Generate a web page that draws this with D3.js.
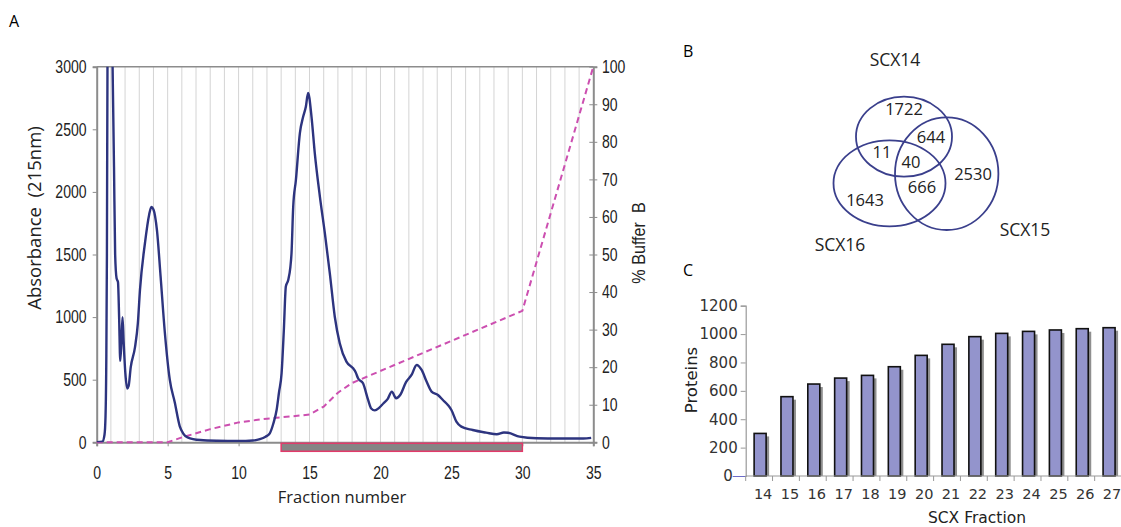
<!DOCTYPE html>
<html>
<head>
<meta charset="utf-8">
<script src="https://cdn.jsdelivr.net/npm/d3@7"></script>
<style>
body { margin: 0; background: #fff; }
svg { display: block; }
text { white-space: pre; }
</style>
</head>
<body>
<script>
var w = 1121;
var h = 527;

// panel A: chromatogram
var fraction = [0, 0.4, 0.55, 0.62, 0.68, 0.72, 0.76, 0.85, 1.05, 1.12, 1.22, 1.3, 1.4, 1.5, 1.58, 1.66, 1.74, 1.82, 1.9, 2.02, 2.15, 2.25, 2.4, 2.7, 2.9, 3.05, 3.4, 3.7, 3.85, 4.0, 4.25, 4.5, 4.8, 5.15, 5.5, 5.85, 6.1, 6.4, 7.3, 8.5, 10, 11, 11.5, 11.9, 12.2, 12.45, 12.68, 12.85, 13.03, 13.19, 13.33, 13.5, 13.65, 13.73, 13.85, 14.04, 14.32, 14.55, 14.74, 14.9, 15.14, 15.37, 15.73, 16.08, 16.43, 16.78, 17.13, 17.6, 18.07, 18.25, 18.42, 18.77, 19.13, 19.35, 19.6, 19.9, 20.2, 20.5, 20.8, 21.1, 21.4, 21.8, 22.2, 22.55, 22.9, 23.25, 23.6, 24.05, 24.4, 24.75, 25.0, 25.35, 25.7, 26.5, 27.45, 28.2, 28.7, 29.0, 29.8, 31.0, 32.6, 34.3, 34.85];
var absorbance = [0, 5, 60, 200, 700, 1500, 3000, 3500, 3500, 3000, 2200, 1500, 1310, 1280, 1000, 650, 800, 1000, 800, 550, 430, 450, 600, 760, 950, 1217, 1590, 1820, 1880, 1860, 1690, 1330, 880, 500, 320, 130, 70, 40, 18, 12, 10, 14, 25, 45, 72, 150, 258, 400, 551, 897, 1244, 1297, 1400, 1510, 1883, 2095, 2470, 2600, 2680, 2790, 2600, 2310, 1963, 1670, 1350, 1003, 791, 644, 591, 560, 511, 471, 338, 270, 255, 275, 310, 345, 405, 352, 380, 480, 540, 618, 578, 485, 405, 378, 338, 298, 258, 165, 125, 98, 77, 64, 78, 76, 45, 32, 30, 30, 35];

var gradFraction = [0, 5, 6, 8, 10, 12, 14, 15, 16, 17, 18, 18.5, 30, 35];
var bufferB = [0, 0, 1.3, 3.5, 5.3, 6.3, 7, 7.4, 9.5, 13.2, 15.8, 16.6, 35, 100];

var collected = [13, 30];

var absTicks = [0, 500, 1000, 1500, 2000, 2500, 3000];
var bufTicks = [0, 10, 20, 30, 40, 50, 60, 70, 80, 90, 100];
var fracTicks = [0, 5, 10, 15, 20, 25, 30, 35];

// panel B: venn
var setNames = ["SCX14", "SCX15", "SCX16"];
var regionKeys = ["14", "15", "16", "14-15", "14-16", "15-16", "all"];
var regionCounts = [1722, 2530, 1643, 644, 11, 666, 40];

// panel C: proteins per fraction
var scxFraction = ["14", "15", "16", "17", "18", "19", "20", "21", "22", "23", "24", "25", "26", "27"];
var proteins = [300, 559, 648, 690, 709, 770, 850, 928, 982, 1005, 1019, 1029, 1038, 1045];
var protTicks = [0, 200, 400, 600, 800, 1000, 1200];

var arial = "'Liberation Sans', Arial, sans-serif";
var humanist = "'Open Sans', 'Noto Sans', sans-serif";
var verd = "'DejaVu Sans', Verdana, sans-serif";
var squeeze = 0.78;

var svg = d3.select("body")
    .append("svg")
    .attr("width", w)
    .attr("height", h);

// ---------- panel A ----------
var x = d3.scaleLinear().domain([0, 35]).range([96.7, 593.3]);
var y = d3.scaleLinear().domain([0, 3000]).range([442.3, 66.7]);
var yB = d3.scaleLinear().domain([0, 100]).range([442.3, 66.7]);

var a = svg.append("g");

a.append("text").attr("x", 9).attr("y", 27).text("A")
    .style("font-family", humanist).style("font-size", "16px");

a.selectAll("line.grid")
    .data(d3.range(1, 35))
    .enter()
    .append("line")
    .attr("class", "grid")
    .attr("x1", function (d) { return x(d); })
    .attr("x2", function (d) { return x(d); })
    .attr("y1", y(3000))
    .attr("y2", y(0))
    .attr("stroke", "#d4d4d4")
    .attr("stroke-width", 1);

// top border
a.append("line")
    .attr("x1", x(0)).attr("x2", x(35))
    .attr("y1", y(3000)).attr("y2", y(3000))
    .attr("stroke", "#8c8c8c").attr("stroke-width", 1.5);

var fmt = d3.format("d");
var axL = a.append("g")
    .attr("transform", "translate(" + x(0) + ",0)")
    .call(d3.axisLeft(y).tickValues(absTicks).tickFormat(fmt).tickSize(4).tickPadding(9));
var axR = a.append("g")
    .attr("transform", "translate(" + x(35) + ",0)")
    .call(d3.axisRight(yB).tickValues(bufTicks).tickFormat(fmt).tickSize(4).tickPadding(7));
axR.selectAll(".tick line").attr("x1", -4);
var axB = a.append("g")
    .attr("transform", "translate(0," + y(0) + ")")
    .call(d3.axisBottom(x).tickValues(fracTicks).tickFormat(fmt).tickSize(4).tickPadding(20));

[axL, axR, axB].forEach(function (g) {
    g.select(".domain").attr("stroke", "#8c8c8c").attr("stroke-width", 2);
    g.selectAll(".tick line").attr("stroke", "#8c8c8c");
    g.selectAll(".tick text")
        .style("font-family", arial)
        .style("font-size", "18px")
        .attr("transform", "scale(" + squeeze + ",1)")
        .attr("fill", "#222");
});

// collected fractions bar
a.append("rect")
    .attr("x", x(collected[0]))
    .attr("y", y(0) + 1)
    .attr("width", x(collected[1]) - x(collected[0]))
    .attr("height", 8)
    .attr("fill", "#858585")
    .attr("stroke", "#e23a6a")
    .attr("stroke-width", 1.5);

a.append("clipPath").attr("id", "clipA")
    .append("rect")
    .attr("x", x(0)).attr("y", y(3000))
    .attr("width", x(35) - x(0)).attr("height", y(0) - y(3000));

var bufLine = d3.line()
    .x(function (d, i) { return x(gradFraction[i]); })
    .y(function (d) { return yB(d); });

a.append("path")
    .datum(bufferB)
    .attr("d", bufLine)
    .attr("fill", "none")
    .attr("stroke", "#cc4fb0")
    .attr("stroke-width", 2)
    .attr("stroke-dasharray", "6,4");

var absLine = d3.line()
    .x(function (d, i) { return x(fraction[i]); })
    .y(function (d) { return y(d); })
    .curve(d3.curveMonotoneX);

a.append("path")
    .datum(absorbance)
    .attr("clip-path", "url(#clipA)")
    .attr("d", absLine)
    .attr("fill", "none")
    .attr("stroke", "#2d347f")
    .attr("stroke-width", 2.4)
    .attr("stroke-linejoin", "round");

a.append("text")
    .attr("transform", "translate(41,218) rotate(-90)")
    .attr("text-anchor", "middle")
    .style("font-family", humanist)
    .style("font-size", "18.5px")
    .attr("fill", "#222")
    .text("Absorbance  (215nm)");

a.append("text")
    .attr("transform", "translate(645,243) rotate(-90) scale(0.85,1)")
    .attr("text-anchor", "middle")
    .style("font-family", arial)
    .style("font-size", "19px")
    .attr("fill", "#222")
    .text("% Buffer  B");

a.append("text")
    .attr("x", 342).attr("y", 503)
    .attr("text-anchor", "middle")
    .style("font-family", humanist)
    .style("font-size", "16.5px")
    .attr("fill", "#222")
    .text("Fraction number");

// ---------- panel B ----------
var b = svg.append("g");
b.append("text").attr("x", 683).attr("y", 57).text("B")
    .style("font-family", humanist).style("font-size", "16px");

// venn layout (not data): ellipse cx, cy, rx, ry and label anchors
var ellipses = [[904, 136.7, 48, 40], [946.7, 173.7, 51.7, 56.3], [889.5, 183.3, 56, 43]];
var setLabelPos = [[895, 66], [1025, 236], [840, 251]];
var regionPos = {
    "14": [904, 115], "15": [973, 180], "16": [865, 206],
    "14-15": [931, 143], "14-16": [882, 158], "15-16": [922, 193], "all": [911, 168]
};

b.selectAll("ellipse")
    .data(setNames)
    .enter()
    .append("ellipse")
    .attr("cx", function (d, i) { return ellipses[i][0]; })
    .attr("cy", function (d, i) { return ellipses[i][1]; })
    .attr("rx", function (d, i) { return ellipses[i][2]; })
    .attr("ry", function (d, i) { return ellipses[i][3]; })
    .attr("fill", "none")
    .attr("stroke", "#3a3f8c")
    .attr("stroke-width", 1.8);

b.selectAll("text.set")
    .data(setNames)
    .enter()
    .append("text")
    .attr("class", "set")
    .attr("x", function (d, i) { return setLabelPos[i][0]; })
    .attr("y", function (d, i) { return setLabelPos[i][1]; })
    .attr("text-anchor", "middle")
    .style("font-family", humanist)
    .style("font-size", "17.5px")
    .attr("fill", "#222")
    .text(function (d) { return d; });

b.selectAll("text.region")
    .data(regionCounts)
    .enter()
    .append("text")
    .attr("class", "region")
    .attr("x", function (d, i) { return regionPos[regionKeys[i]][0]; })
    .attr("y", function (d, i) { return regionPos[regionKeys[i]][1]; })
    .attr("text-anchor", "middle")
    .style("font-family", humanist)
    .style("font-size", "16.5px")
    .attr("fill", "#222")
    .text(function (d) { return d; });

// ---------- panel C ----------
var c = svg.append("g");
c.append("text").attr("x", 683).attr("y", 276).text("C")
    .style("font-family", humanist).style("font-size", "16px");

var xb = d3.scaleBand().domain(scxFraction).range([745.7, 1121.5]).padding(0);
var yb = d3.scaleLinear().domain([0, 1200]).range([476, 305.7]);
var barW = 12;

c.selectAll("rect.shadow")
    .data(proteins)
    .enter()
    .append("rect")
    .attr("class", "shadow")
    .attr("x", function (d, i) { return xb(scxFraction[i]) + xb.bandwidth() / 2 - barW / 2 + 4; })
    .attr("y", function (d) { return yb(d) + 3; })
    .attr("width", barW)
    .attr("height", function (d) { return yb(0) - yb(d) - 3; })
    .attr("fill", "#8f8f8f");

c.selectAll("rect.bar")
    .data(proteins)
    .enter()
    .append("rect")
    .attr("class", "bar")
    .attr("x", function (d, i) { return xb(scxFraction[i]) + xb.bandwidth() / 2 - barW / 2 + 1; })
    .attr("y", function (d) { return yb(d); })
    .attr("width", barW)
    .attr("height", function (d) { return yb(0) - yb(d); })
    .attr("fill", "#9394cc")
    .attr("stroke", "#111")
    .attr("stroke-width", 1.6);

var cy = c.append("g")
    .attr("transform", "translate(745.7,0)")
    .call(d3.axisLeft(yb).tickValues(protTicks).tickFormat(fmt).tickSize(5).tickPadding(3));
cy.select(".domain").attr("stroke", "#999").attr("stroke-width", 1.2);
cy.selectAll(".tick line").attr("stroke", "#999");
cy.selectAll(".tick line").filter(function (d) { return d === 0; })
    .attr("stroke", "#6c6cc8").attr("x2", -13);
cy.selectAll(".tick text")
    .filter(function (d) { return d === 0; })
    .attr("x", -13);
cy.selectAll(".tick text")
    .style("font-family", verd)
    .style("font-size", "15px")
    .attr("fill", "#333");

var cx = c.append("g").attr("transform", "translate(0,476)");
cx.append("line")
    .attr("x1", 745.7).attr("x2", 1121.5)
    .attr("stroke", "#999").attr("stroke-width", 1.2);
cx.selectAll("line.tk")
    .data(scxFraction)
    .enter()
    .append("line")
    .attr("class", "tk")
    .attr("x1", function (d) { return xb(d); })
    .attr("x2", function (d) { return xb(d); })
    .attr("y1", 0).attr("y2", 5)
    .attr("stroke", "#999");
cx.selectAll("text")
    .data(scxFraction)
    .enter()
    .append("text")
    .attr("x", function (d) { return xb(d) + xb.bandwidth() / 2 + 4; })
    .attr("y", 23)
    .attr("text-anchor", "middle")
    .style("font-family", verd)
    .style("font-size", "14.5px")
    .attr("fill", "#333")
    .text(function (d) { return d; });

c.append("text")
    .attr("transform", "translate(697,380) rotate(-90)")
    .attr("text-anchor", "middle")
    .style("font-family", verd)
    .style("font-size", "16.5px")
    .attr("fill", "#222")
    .text("Proteins");

c.append("text")
    .attr("x", 977).attr("y", 523)
    .attr("text-anchor", "middle")
    .style("font-family", verd)
    .style("font-size", "15.5px")
    .attr("fill", "#222")
    .text("SCX Fraction");
</script>
</body>
</html>
